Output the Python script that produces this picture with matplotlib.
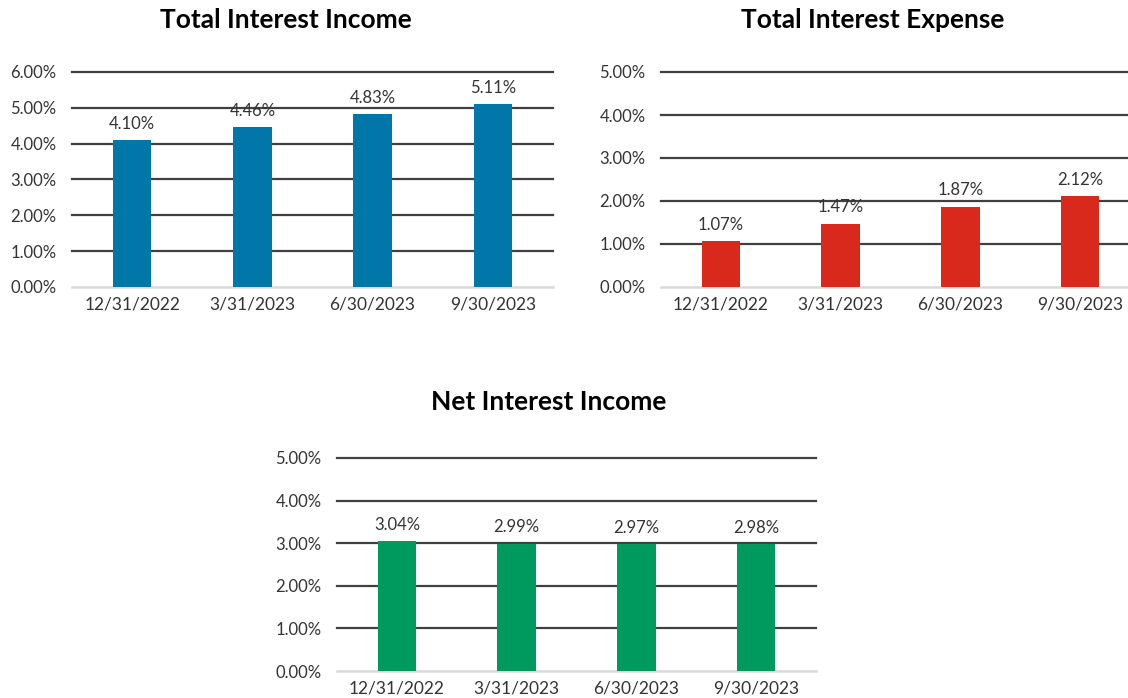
import matplotlib
matplotlib.use("Agg")
import matplotlib.pyplot as plt
from matplotlib.ticker import FuncFormatter

plt.rcParams['font.family'] = ['Lato', 'DejaVu Sans']

quarters = ["12/31/2022", "3/31/2023", "6/30/2023", "9/30/2023"]
interest_income = [4.10, 4.46, 4.83, 5.11]
interest_expense = [1.07, 1.47, 1.87, 2.12]
net_interest = [3.04, 2.99, 2.97, 2.98]

W, H = 1128, 698
fig = plt.figure(figsize=(W / 100, H / 100), dpi=100)


def px_axes(left, top, right, bottom):
    return fig.add_axes([left / W, 1 - bottom / H, (right - left) / W, (bottom - top) / H])


def draw_panel(ax, values, color, ymax, title, title_x, title_y):
    x = range(len(quarters))
    for t in range(1, ymax + 1):
        ax.axhline(t, color="#404040", lw=1.6, zorder=1, clip_on=False)
    ax.axhline(0, color="#d9d9d9", lw=1.8, zorder=1, clip_on=False)
    bars = ax.bar(x, values, width=0.32, color=color, zorder=2)
    for b, v in zip(bars, values):
        ax.annotate(f"{v:.2f}%", (b.get_x() + b.get_width() / 2, v),
                    xytext=(0, 6), textcoords="offset points",
                    ha="center", va="bottom", fontsize=12, color="#333333")
    ax.set_xlim(-0.5, len(quarters) - 0.5)
    ax.set_ylim(0, ymax)
    ax.set_yticks(range(ymax + 1))
    ax.yaxis.set_major_formatter(FuncFormatter(lambda v, p: f"{v:.2f}%"))
    ax.set_xticks(list(x))
    ax.set_xticklabels(quarters)
    ax.tick_params(length=0, labelcolor="#333333")
    ax.tick_params(axis="y", pad=11, labelsize=12)
    ax.tick_params(axis="x", pad=7, labelsize=12.5)
    for s in ax.spines.values():
        s.set_visible(False)
    ax.patch.set_alpha(0)
    fig.text(title_x / W, 1 - title_y / H, title, ha="center", va="center",
             fontsize=19, fontweight="bold", color="black")


ax1 = px_axes(72, 72, 553, 287)
draw_panel(ax1, interest_income, "#0077a8", 6, "Total Interest Income", 286, 20)

ax2 = px_axes(661, 72, 1140, 287)
draw_panel(ax2, interest_expense, "#d9291c", 5, "Total Interest Expense", 873, 20)

ax3 = px_axes(337, 458, 816, 671)
draw_panel(ax3, net_interest, "#009a5e", 5, "Net Interest Income", 549, 402)

fig.savefig("out.png", dpi=100)
